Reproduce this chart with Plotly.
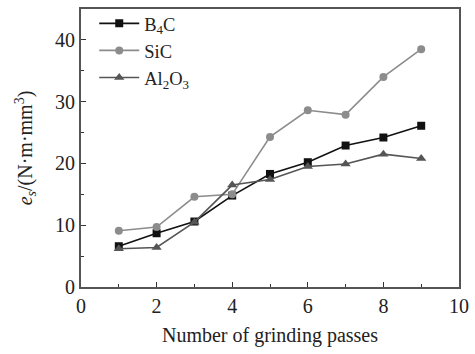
import plotly.graph_objects as go

passes = [1, 2, 3, 4, 5, 6, 7, 8, 9]
b4c = [6.6, 8.7, 10.6, 14.8, 18.3, 20.2, 22.9, 24.2, 26.1]
sic = [9.1, 9.7, 14.6, 15.0, 24.3, 28.6, 27.9, 34.0, 38.5]
al2o3 = [6.2, 6.4, 10.5, 16.5, 17.4, 19.5, 19.9, 21.5, 20.8]

FONT = "Liberation Serif, Times New Roman, serif"

fig = go.Figure()
fig.add_trace(go.Scatter(
    x=passes, y=b4c, name="B<sub>4</sub>C", mode="lines+markers",
    line=dict(color="#111111", width=1.6),
    marker=dict(symbol="square", size=8, color="#111111")))
fig.add_trace(go.Scatter(
    x=passes, y=sic, name="SiC", mode="lines+markers",
    line=dict(color="#8c8c8c", width=1.6),
    marker=dict(symbol="circle", size=8, color="#8c8c8c")))
fig.add_trace(go.Scatter(
    x=passes, y=al2o3, name="Al<sub>2</sub>O<sub>3</sub>", mode="lines+markers",
    line=dict(color="#555555", width=1.6),
    marker=dict(symbol="triangle-up", size=9, color="#555555")))

axis_common = dict(
    showgrid=False, zeroline=False, showline=True, mirror=True,
    linecolor="#555555", linewidth=2, ticks="inside", ticklen=5,
    tickcolor="#333333", tickwidth=1.2,
    tickfont=dict(family=FONT, size=20, color="#222222"),
)

fig.update_layout(
    width=475, height=354,
    margin=dict(l=81, r=16, t=5, b=67),
    paper_bgcolor="white", plot_bgcolor="white",
    font=dict(family=FONT, size=20, color="#222222"),
    showlegend=True,
    legend=dict(x=0.035, y=1.015, xanchor="left", yanchor="top",
                bgcolor="rgba(0,0,0,0)", borderwidth=0,
                font=dict(family=FONT, size=18.5, color="#222222"),
                tracegroupgap=0, itemwidth=40),
    xaxis=dict(range=[0, 10], dtick=2,
               minor=dict(ticks="inside", dtick=1, ticklen=3, tickcolor="#333333"),
               title=dict(text="Number of grinding passes", standoff=12,
                          font=dict(family=FONT, size=20, color="#222222")),
               **axis_common),
    yaxis=dict(range=[0, 45], dtick=10,
               minor=dict(ticks="inside", dtick=5, ticklen=3, tickcolor="#333333"),
               title=dict(text="<i>e</i><sub><i>s</i></sub>/(N·m·mm<sup>3</sup>)",
                          standoff=17,
                          font=dict(family=FONT, size=20, color="#222222")),
               **axis_common),
)

fig.write_html("out.html")
